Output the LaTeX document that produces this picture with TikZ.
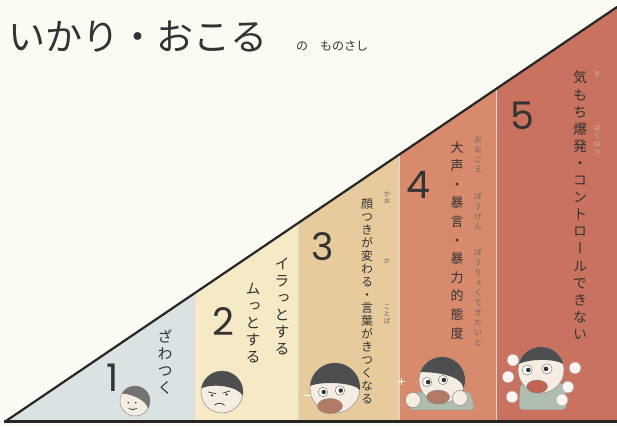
\documentclass[tikz,border=0pt]{standalone}
\usepackage{fontspec}
\setmainfont{Noto Sans CJK JP}
\newfontfamily\tatefont[RawFeature=+vert]{Noto Sans CJK JP}
\newfontfamily\numfont{Poppins}
\usetikzlibrary{positioning}

\definecolor{bg}{HTML}{FBFBF4}
\definecolor{lv1}{HTML}{DBE2E3}
\definecolor{lv2}{HTML}{F6EAC6}
\definecolor{lv3}{HTML}{E7CB9C}
\definecolor{lv4}{HTML}{D78A6C}
\definecolor{lv5}{HTML}{C8725F}
\definecolor{ink}{HTML}{333333}
\definecolor{skinc}{HTML}{F5EDE2}
\definecolor{hairc}{HTML}{4E4E4E}
\definecolor{shirtc}{HTML}{AFBDAE}
\definecolor{mouthc}{HTML}{B27B66}

% one character per line, top to bottom
\newcommand\tatebox[2]{\vbox{\baselineskip=#1\lineskiplimit=-100pt\tatestep#2\relax}}
\def\tatestep#1{\ifx\relax#1\else\hbox to 1em{\hss#1\hss}\expandafter\tatestep\fi}

\begin{document}
\begin{tikzpicture}[x=1pt,y=1pt,
  tate/.style={inner sep=0pt, anchor=north, text=ink, font=\tatefont},
  ruby/.style={inner sep=0pt, text=ink!75, font=\tatefont},
  num/.style={inner sep=0pt, text=ink, font=\numfont\fontsize{38}{38}\selectfont},
  slope/.style={draw=black!85, line width=2.2pt, line cap=round},
  sep/.style={draw=black!15, line width=0.6pt},
  skin/.style={fill=skinc, draw=black!45, line width=0.5pt},
  hair/.style={fill=hairc},
  feat/.style={draw=ink, line width=0.7pt, line cap=round},
  eye/.style={fill=white, draw=black!60, line width=0.4pt},
  shirt/.style={fill=shirtc, draw=black!35, line width=0.4pt},
  puff/.style={fill=white!92!lv5, draw=black!30, line width=0.4pt}]
\useasboundingbox (0,0) rectangle (617,426);
\fill[bg] (0,0) rectangle (617,426);

% coloured bands under the slope
\begin{scope}
\clip (6,5) -- (617,5) -- (617,419) -- cycle;
\fill[lv1] (6,0) rectangle (194,426);
\fill[lv2] (194,0) rectangle (298,426);
\fill[lv3] (298,0) rectangle (399,426);
\fill[lv4] (399,0) rectangle (496,426);
\fill[lv5] (496,0) rectangle (617,426);
\foreach \x in {194,298,399,496}
  \draw[sep] (\x,0) -- (\x,426);
\end{scope}
\draw[slope] (6,5) -- (617,419);
\draw[black!85, line width=3pt] (4,4.5) -- (617,4.5);

% heading
\node[anchor=west, inner sep=0pt, text=ink, font=\fontsize{37}{37}\selectfont] (title) at (8,389) {いかり・おこる};
\node[anchor=west, inner sep=0pt, text=ink, font=\fontsize{12}{12}\selectfont] (sub) at (296,380) {の　ものさし};

% level numbers
\node[num] (n1) at (113,48) {1};
\node[num] (n2) at (223,104) {2};
\node[num] (n3) at (323,179) {3};
\node[num] (n4) at (418,241) {4};
\node[num] (n5) at (522,310) {5};

% vertical labels
\node[tate] (t1) at (165,96) {\fontsize{15}{15}\selectfont\tatebox{17pt}{ざわつく}};
\node[tate] (t2a) at (282,168) {\fontsize{15}{15}\selectfont\tatebox{17pt}{イラっとする}};
\node[tate] (t2b) at (253,143) {\fontsize{15}{15}\selectfont\tatebox{17pt}{ムっとする}};
\node[tate] (t3) at (367,228) {\fontsize{12}{12}\selectfont\tatebox{13pt}{顔つきが変わる・言葉がきつくなる}};
\node[tate] (t4) at (457,285) {\fontsize{13}{13}\selectfont\tatebox{18.6pt}{大声・暴言・暴力的態度}};
\node[tate] (t5) at (580,355) {\fontsize{14}{14}\selectfont\tatebox{17.1pt}{気もち爆発・コントロールできない}};

% furigana
\node[ruby] (r3a) at (387,228) {\fontsize{6.5}{6.5}\selectfont\tatebox{7pt}{かお}};
\node[ruby] (r3b) at (387,165) {\fontsize{6.5}{6.5}\selectfont\tatebox{7pt}{か}};
\node[ruby] (r3c) at (387,112) {\fontsize{6.5}{6.5}\selectfont\tatebox{7pt}{ことば}};
\node[ruby] (r4a) at (478,271) {\fontsize{7.5}{7.5}\selectfont\tatebox{10pt}{おおごえ}};
\node[ruby] (r4b) at (478,214) {\fontsize{7.5}{7.5}\selectfont\tatebox{10pt}{ぼうげん}};
\node[ruby] (r4c) at (478,128) {\fontsize{7.5}{7.5}\selectfont\tatebox{10pt}{ぼうりょくてきたいど}};
\node[ruby, text=ink!30] (r5a) at (597,352) {\fontsize{6.5}{6.5}\selectfont\tatebox{8pt}{き}};
\node[ruby, text=ink!30] (r5b) at (597,286) {\fontsize{6.5}{6.5}\selectfont\tatebox{8pt}{ばくはつ}};

% face 1
\begin{scope}[shift={(135,25)}, scale=15]
\filldraw[skin] (0,0) circle (1);
\fill[hair, fill=black!55] (150:1) arc (150:-30:1) .. controls (0.7,0.1) and (-0.2,0.45) .. cycle;
\fill[ink] (-0.45,-0.12) circle (0.06) (0.05,-0.12) circle (0.06);
\draw[feat] (-0.4,-0.5) .. controls (-0.25,-0.6) and (-0.05,-0.6) .. (0.1,-0.5);
\end{scope}

% face 2
\begin{scope}[shift={(222,34)}, scale=21]
\filldraw[skin] (0,0) circle (1);
\fill[hair] (170:1) arc (170:-10:1) .. controls (0.8,0.25) and (-0.4,0.45) .. cycle;
\draw[feat] (-0.65,0.0) -- (-0.3,-0.08) (0.05,-0.05) -- (0.38,0.05);
\fill[ink] (-0.48,-0.16) circle (0.06) (0.22,-0.12) circle (0.06);
\draw[feat] (-0.35,-0.62) .. controls (-0.2,-0.5) and (0,-0.5) .. (0.12,-0.64);
\end{scope}

% face 3
\begin{scope}[shift={(335,38)}, scale=25]
\filldraw[skin] (0,0) circle (1);
\fill[hair] (175:1) arc (175:-5:1) .. controls (0.8,0.2) and (-0.4,0.3) .. cycle;
\filldraw[eye] (-0.48,-0.16) circle (0.19) (0.2,-0.1) circle (0.19);
\fill[ink] (-0.45,-0.16) circle (0.09) (0.23,-0.1) circle (0.09);
\filldraw[fill=mouthc, draw=black!50, line width=0.4pt] (-0.2,-0.72) ellipse (0.5 and 0.3);
\draw[white, line width=1pt] (-1.25,-0.3) .. controls (-1.15,-0.2) and (-1.05,-0.4) .. (-0.95,-0.3);
\end{scope}

% face 4
\begin{scope}[shift={(442,46)}, scale=23]
\filldraw[shirt, rounded corners=4pt] (-1.4,-1.3) -- (-1.25,-0.55) -- (1.2,-0.5) -- (1.43,-1.3) -- cycle;
\filldraw[skin] (0,0) circle (1);
\fill[hair] (160:1) arc (160:-20:1) .. controls (0.8,0.25) and (-0.4,0.35) .. cycle;
\filldraw[eye] (-0.65,-0.09) circle (0.2) (0.04,0) circle (0.2);
\fill[ink] (-0.6,-0.09) circle (0.1) (0.08,0) circle (0.1);
\filldraw[fill=mouthc, draw=black!50, line width=0.4pt] (-0.17,-0.74) ellipse (0.5 and 0.3);
\filldraw[skin] (-1.26,-0.87) circle (0.33) (0.78,-0.78) circle (0.33);
\draw[white, line width=1.2pt] (-1.9,-0.08) -- (-1.6,-0.08) (-1.75,-0.23) -- (-1.75,0.07);
\end{scope}

% face 5
\begin{scope}[shift={(541,56)}, scale=23]
\filldraw[shirt, rounded corners=4pt] (-0.95,-1.72) -- (-0.9,-0.6) -- (1.05,-0.6) -- (1.1,-1.72) -- cycle;
\filldraw[skin] (0,0) circle (1);
\fill[hair] (165:1) arc (165:15:1) .. controls (0.6,0.5) and (-0.5,0.5) .. cycle;
\filldraw[eye] (-0.6,0.0) circle (0.22) (0.26,0.05) circle (0.22);
\fill[ink] (-0.55,0.0) circle (0.1) (0.22,0.05) circle (0.1);
\filldraw[fill=mouthc!80!red, draw=black!50, line width=0.4pt] (-0.17,-0.72) ellipse (0.45 and 0.28);
\foreach \p in {(1.48,0.09),(1.17,-0.74),(0.91,-1.3),(-1.22,0.43),(-1.43,-0.3),(-1.26,-1.17)}
  \filldraw[puff] \p circle (0.25);
\end{scope}
\end{tikzpicture}
\end{document}
